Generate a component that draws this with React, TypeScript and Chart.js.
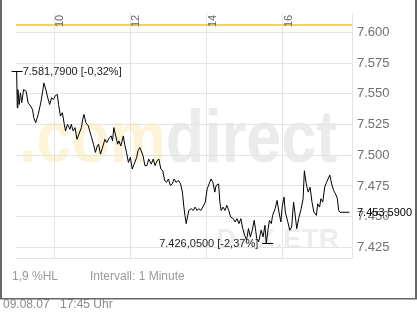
import React, { useEffect, useRef } from 'react';
import { Chart, registerables } from 'chart.js';

Chart.register(...registerables);

// ---- data (DAX intraday, 1-minute interval) ----
const times = [
  '09:01', '09:02', '09:03', '09:05', '09:07', '09:09', '09:12', '09:16', '09:19', '09:23',
  '09:26', '09:28', '09:31', '09:35', '09:39', '09:42', '09:44', '09:47', '09:50', '09:53',
  '09:56', '09:59', '10:02', '10:05', '10:07', '10:10', '10:13', '10:16', '10:18', '10:21',
  '10:25', '10:27', '10:30', '10:33', '10:36', '10:39', '10:43', '10:45', '10:47', '10:50',
  '10:54', '10:56', '10:59', '11:02', '11:05', '11:08', '11:10', '11:13', '11:17', '11:20',
  '11:23', '11:27', '11:30', '11:32', '11:34', '11:37', '11:40', '11:42', '11:45', '11:49',
  '11:51', '11:54', '11:57', '12:00', '12:03', '12:06', '12:10', '12:12', '12:15', '12:17',
  '12:20', '12:23', '12:26', '12:29', '12:33', '12:36', '12:39', '12:42', '12:45', '12:48',
  '12:51', '12:54', '12:57', '13:00', '13:03', '13:06', '13:09', '13:12', '13:16', '13:19',
  '13:22', '13:24', '13:26', '13:28', '13:30', '13:32', '13:36', '13:39', '13:42', '13:45',
  '13:48', '13:51', '13:54', '13:58', '14:01', '14:04', '14:07', '14:10', '14:13', '14:15',
  '14:19', '14:21', '14:23', '14:26', '14:29', '14:32', '14:35', '14:38', '14:42', '14:45',
  '14:48', '14:51', '14:54', '14:57', '15:00', '15:03', '15:06', '15:09', '15:12', '15:15',
  '15:17', '15:19', '15:22', '15:26', '15:29', '15:32', '15:34', '15:37', '15:39', '15:42',
  '15:44', '15:48', '15:51', '15:54', '15:57', '15:59', '16:02', '16:04', '16:08', '16:11',
  '16:14', '16:17', '16:19', '16:22', '16:25', '16:29', '16:32', '16:34', '16:37', '16:40',
  '16:43', '16:46', '16:49', '16:53', '16:55', '16:58', '17:00', '17:03', '17:06', '17:09',
  '17:14', '17:17', '17:20', '17:23', '17:26', '17:28', '17:30', '17:45',
];

const values = [
  7568.3, 7538.6, 7553.4, 7541.3, 7550.7, 7542.7, 7553.4, 7552.1, 7542.7, 7540.0,
  7537.3, 7530.5, 7526.5, 7533.2, 7542.7, 7552.1, 7558.8, 7553.4, 7546.7, 7541.3,
  7546.7, 7545.4, 7548.6, 7549.4, 7541.3, 7531.9, 7534.6, 7525.2, 7519.8, 7525.2,
  7521.1, 7525.2, 7519.8, 7522.5, 7513.0, 7517.1, 7522.5, 7529.2, 7533.2, 7526.5,
  7523.8, 7519.8, 7514.4, 7509.0, 7502.3, 7507.6, 7509.0, 7500.9, 7507.6, 7513.0,
  7510.3, 7514.4, 7515.7, 7511.7, 7522.5, 7515.7, 7509.0, 7511.7, 7507.6, 7515.7,
  7509.0, 7502.3, 7494.2, 7498.2, 7488.8, 7492.8, 7498.2, 7503.6, 7506.3, 7503.6,
  7499.6, 7491.5, 7491.5, 7496.9, 7492.8, 7496.9, 7491.5, 7495.5, 7496.9, 7488.8,
  7487.4, 7479.4, 7478.0, 7480.7, 7475.3, 7476.7, 7480.7, 7478.0, 7479.4, 7476.7,
  7470.0, 7459.2, 7451.1, 7444.4, 7449.8, 7455.1, 7456.5, 7455.1, 7457.8, 7455.1,
  7456.5, 7455.1, 7457.8, 7461.9, 7472.6, 7476.7, 7480.7, 7478.0, 7470.0, 7475.3,
  7476.7, 7461.9, 7455.1, 7457.8, 7455.1, 7459.2, 7455.1, 7449.8, 7448.4, 7445.7,
  7448.4, 7444.4, 7448.4, 7440.3, 7434.9, 7430.9, 7440.3, 7433.6, 7439.0, 7447.0,
  7440.3, 7432.2, 7429.6, 7439.0, 7433.6, 7443.0, 7428.2, 7440.3, 7447.0, 7444.4,
  7451.1, 7456.5, 7463.2, 7453.8, 7445.7, 7457.8, 7465.9, 7453.8, 7445.7, 7439.0,
  7441.7, 7461.9, 7453.8, 7440.3, 7448.4, 7456.5, 7464.6, 7487.4, 7476.7, 7470.0,
  7474.0, 7461.9, 7453.8, 7451.1, 7460.5, 7457.8, 7464.6, 7461.9, 7474.0, 7478.0,
  7483.9, 7476.7, 7471.3, 7468.6, 7464.6, 7455.1, 7453.6, 7453.59,
];

const prevClose = 7606.0;
const yTicks = [7425, 7450, 7475, 7500, 7525, 7550, 7575, 7600];
const xTickHours = [10, 12, 14, 16];
const sessionStart = '09:00';
const sessionEnd = '17:49';
const yMin = 7416.4;
const yMax = 7615.9;

const highLabel = '7.581,7900 [-0,32%]';
const lowLabel = '7.426,0500 [-2,37%]';
const lastLabel = '7.453,5900';
const hlLabel = '1,9 %HL';
const intervalLabel = 'Intervall: 1 Minute';
const dateLabel = '09.08.07';
const timeLabel = '17:45 Uhr';
const wmDot = '.com';
const wmWord = 'direct';
const wmIndex = 'DAX.ETR';

const FONT = '"Liberation Sans", Arial, Helvetica, sans-serif';

function toMin(t: string): number {
  const [h, m] = t.split(':').map(Number);
  return h * 60 + m;
}

function fmtTick(v: number): string {
  const r = Math.round(v);
  if (!yTicks.includes(r)) return '';
  const th = Math.floor(r / 1000);
  const rest = String(r % 1000).padStart(3, '0');
  return th + '.' + rest;
}

const overlay = {
  id: 'overlay',
  beforeDraw(chart: any) {
    const ctx = chart.ctx as CanvasRenderingContext2D;
    const area = chart.chartArea;
    ctx.save();
    ctx.fillStyle = '#ffffff';
    ctx.fillRect(0, 0, chart.width, chart.height);
    // watermark
    ctx.textBaseline = 'alphabetic';
    ctx.textAlign = 'left';
    ctx.save();
    ctx.translate(area.left + 3, 162);
    ctx.scale(0.85, 1);
    ctx.font = 'bold 74px ' + FONT;
    ctx.fillStyle = '#fdf4d8';
    ctx.fillText(wmDot, 0, 0);
    const w = ctx.measureText(wmDot).width;
    ctx.fillStyle = '#ebebeb';
    ctx.fillText(wmWord, w, 0);
    ctx.restore();
    ctx.font = 'bold 28px ' + FONT;
    ctx.fillStyle = '#ededed';
    ctx.fillText(wmIndex, 216, 248);
    ctx.restore();
  },
  afterDraw(chart: any) {
    const ctx = chart.ctx as CanvasRenderingContext2D;
    const xs = chart.scales.x;
    const ys = chart.scales.y;
    const area = chart.chartArea;
    ctx.save();

    // hour labels (rotated) at top
    ctx.font = '11px ' + FONT;
    ctx.fillStyle = '#666666';
    ctx.textAlign = 'center';
    ctx.textBaseline = 'middle';
    xTickHours.forEach((h) => {
      const px = xs.getPixelForValue(h * 60);
      ctx.save();
      ctx.translate(px + 6, 21);
      ctx.rotate(-Math.PI / 2);
      ctx.fillText(String(h), 0, 0);
      ctx.restore();
    });

    // high / low / last annotations
    let iMax = 0;
    let iMin = 0;
    values.forEach((v, i) => {
      if (v > values[iMax]) iMax = i;
      if (v < values[iMin]) iMin = i;
    });
    ctx.strokeStyle = '#000000';
    ctx.lineWidth = 1;
    ctx.fillStyle = '#222222';
    ctx.font = '11px ' + FONT;
    ctx.textBaseline = 'middle';

    const hx = xs.getPixelForValue(toMin(times[iMax]));
    const hy = Math.round(ys.getPixelForValue(values[iMax])) + 0.5;
    ctx.beginPath();
    ctx.moveTo(hx - 5, hy);
    ctx.lineTo(hx + 6, hy);
    ctx.stroke();
    ctx.textAlign = 'left';
    ctx.fillText(highLabel, hx + 6, hy);

    const lx = xs.getPixelForValue(toMin(times[iMin]));
    const ly = Math.round(ys.getPixelForValue(values[iMin])) + 0.5;
    ctx.beginPath();
    ctx.moveTo(lx - 4, ly);
    ctx.lineTo(lx + 7, ly);
    ctx.stroke();
    ctx.textAlign = 'right';
    ctx.fillText(lowLabel, lx - 8, ly);

    const last = values.length - 1;
    const ty = Math.round(ys.getPixelForValue(values[last])) + 0.5;
    ctx.textAlign = 'left';
    ctx.fillStyle = '#000000';
    ctx.fillText(lastLabel, area.right + 5, ty);

    // footer texts
    ctx.font = '12px ' + FONT;
    ctx.fillStyle = '#9a9a9a';
    ctx.fillText(hlLabel, 12, 277);
    ctx.fillText(intervalLabel, 90, 277);
    ctx.fillStyle = '#8a8a8a';
    ctx.fillText(dateLabel, 3, 305);
    ctx.fillText(timeLabel, 60, 305);

    // frame
    ctx.fillStyle = '#666666';
    ctx.fillRect(0, 0, 2, 299);
    ctx.fillRect(415, 0, 2, 299);
    ctx.fillRect(0, 298, 417, 1.5);
    ctx.restore();
  },
};

export default function App() {
  const ref = useRef<HTMLCanvasElement | null>(null);

  useEffect(() => {
    document.body.style.margin = '0';
    const canvas = ref.current;
    if (!canvas) return;
    const x0 = toMin(sessionStart);
    const x1 = toMin(sessionEnd);
    const chart = new Chart(canvas, {
      type: 'line',
      data: {
        datasets: [
          {
            label: 'Vortag',
            data: [
              { x: x0, y: prevClose },
              { x: x1, y: prevClose },
            ],
            borderColor: '#f2c21b',
            borderWidth: 1.5,
            pointRadius: 0,
            tension: 0,
          },
          {
            label: 'DAX',
            data: times.map((t, i) => ({ x: toMin(t), y: values[i] })),
            borderColor: '#000000',
            borderWidth: 1,
            pointRadius: 0,
            tension: 0,
          },
        ],
      },
      plugins: [overlay],
      options: {
        responsive: false,
        animation: false,
        devicePixelRatio: 1,
        layout: { padding: { left: 16, top: 11, right: 0, bottom: 54 } },
        plugins: { legend: { display: false }, tooltip: { enabled: false } },
        scales: {
          x: {
            type: 'linear',
            position: 'top',
            min: x0,
            max: x1,
            afterBuildTicks: (s: any) => {
              s.ticks = [...xTickHours.map((h) => ({ value: h * 60 })), { value: x1 }];
            },
            afterFit: (s: any) => {
              s.height = 0;
            },
            ticks: { display: false },
            grid: { color: '#e4e4e4', lineWidth: 1, drawTicks: false },
            border: { display: false },
          },
          y: {
            type: 'linear',
            position: 'right',
            min: yMin,
            max: yMax,
            afterBuildTicks: (s: any) => {
              s.ticks = [{ value: yMin }, ...yTicks.map((v) => ({ value: v }))];
            },
            afterFit: (s: any) => {
              s.width = 65;
            },
            ticks: {
              padding: 5,
              color: '#707070',
              font: { family: FONT, size: 13 },
              callback: (v: any) => fmtTick(Number(v)),
            },
            grid: { color: '#e4e4e4', lineWidth: 1, drawTicks: false },
            border: { display: false },
          },
        },
      },
    });
    return () => chart.destroy();
  }, []);

  return <canvas ref={ref} width={417} height={312} style={{ display: 'block' }} />;
}
